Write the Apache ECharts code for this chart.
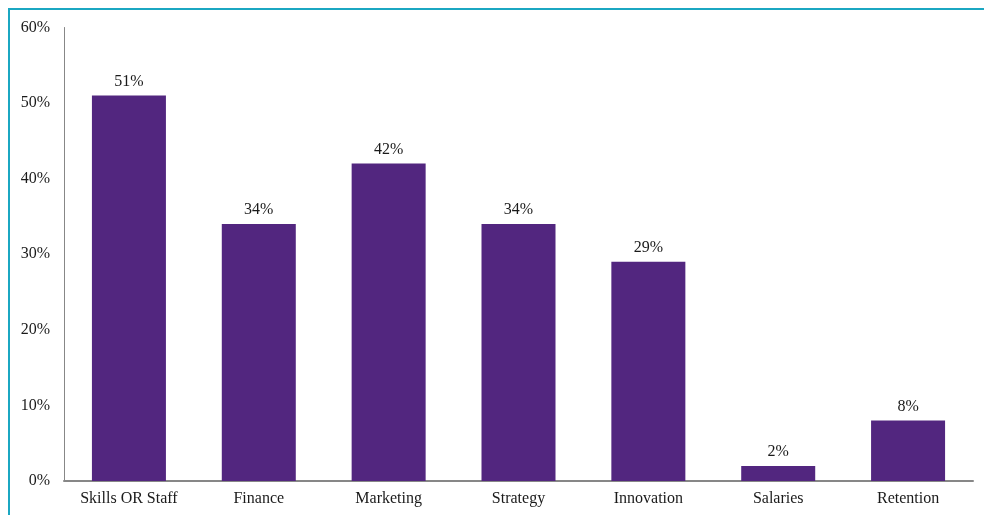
<!DOCTYPE html>
<html>
<head>
<meta charset="utf-8">
<script src="https://cdn.jsdelivr.net/npm/echarts@6/dist/echarts.min.js"></script>
<style>
  html, body { margin: 0; padding: 0; background: #fff; }
  #chart { width: 984px; height: 515px; }
</style>
</head>
<body>
<div id="chart"></div>
<script>
// Share of respondents naming each area (percent)
const categories = ['Skills OR Staff', 'Finance', 'Marketing', 'Strategy', 'Innovation', 'Salaries', 'Retention'];
const shares = [51, 34, 42, 34, 29, 2, 8];
const yTicks = [0, 10, 20, 30, 40, 50, 60];

const FONT = '"Liberation Serif", "DejaVu Serif", serif';
const chart = echarts.init(document.getElementById('chart'), null, { renderer: 'canvas' });

chart.setOption({
  animation: false,
  backgroundColor: '#ffffff',
  graphic: [
    // teal frame along the top and left edges
    { type: 'line', shape: { x1: 8, y1: 9, x2: 984, y2: 9 }, style: { stroke: '#1ba7c2', lineWidth: 2 } },
    { type: 'line', shape: { x1: 9, y1: 8, x2: 9, y2: 515 }, style: { stroke: '#1ba7c2', lineWidth: 2 } }
  ],
  grid: { left: 64, right: 11, top: 27.5, bottom: 34, containLabel: false },
  xAxis: {
    type: 'category',
    data: categories,
    axisLine: { lineStyle: { color: '#878787', width: 2 } },
    axisTick: { show: false },
    axisLabel: { color: '#1a1a1a', fontFamily: FONT, fontSize: 16, margin: 10 }
  },
  yAxis: {
    type: 'value',
    min: yTicks[0],
    max: yTicks[yTicks.length - 1],
    interval: 10,
    axisLine: { show: true, lineStyle: { color: '#878787', width: 1 } },
    axisTick: { show: false },
    splitLine: { show: false },
    axisLabel: { color: '#1a1a1a', fontFamily: FONT, fontSize: 16, margin: 14, formatter: v => v + '%' }
  },
  series: [{
    type: 'bar',
    data: shares,
    barWidth: 74,
    itemStyle: { color: '#52267f' },
    label: {
      show: true,
      position: 'top',
      distance: 6,
      color: '#1a1a1a',
      fontFamily: FONT,
      fontSize: 16,
      formatter: p => p.value + '%'
    }
  }]
});
</script>
</body>
</html>
